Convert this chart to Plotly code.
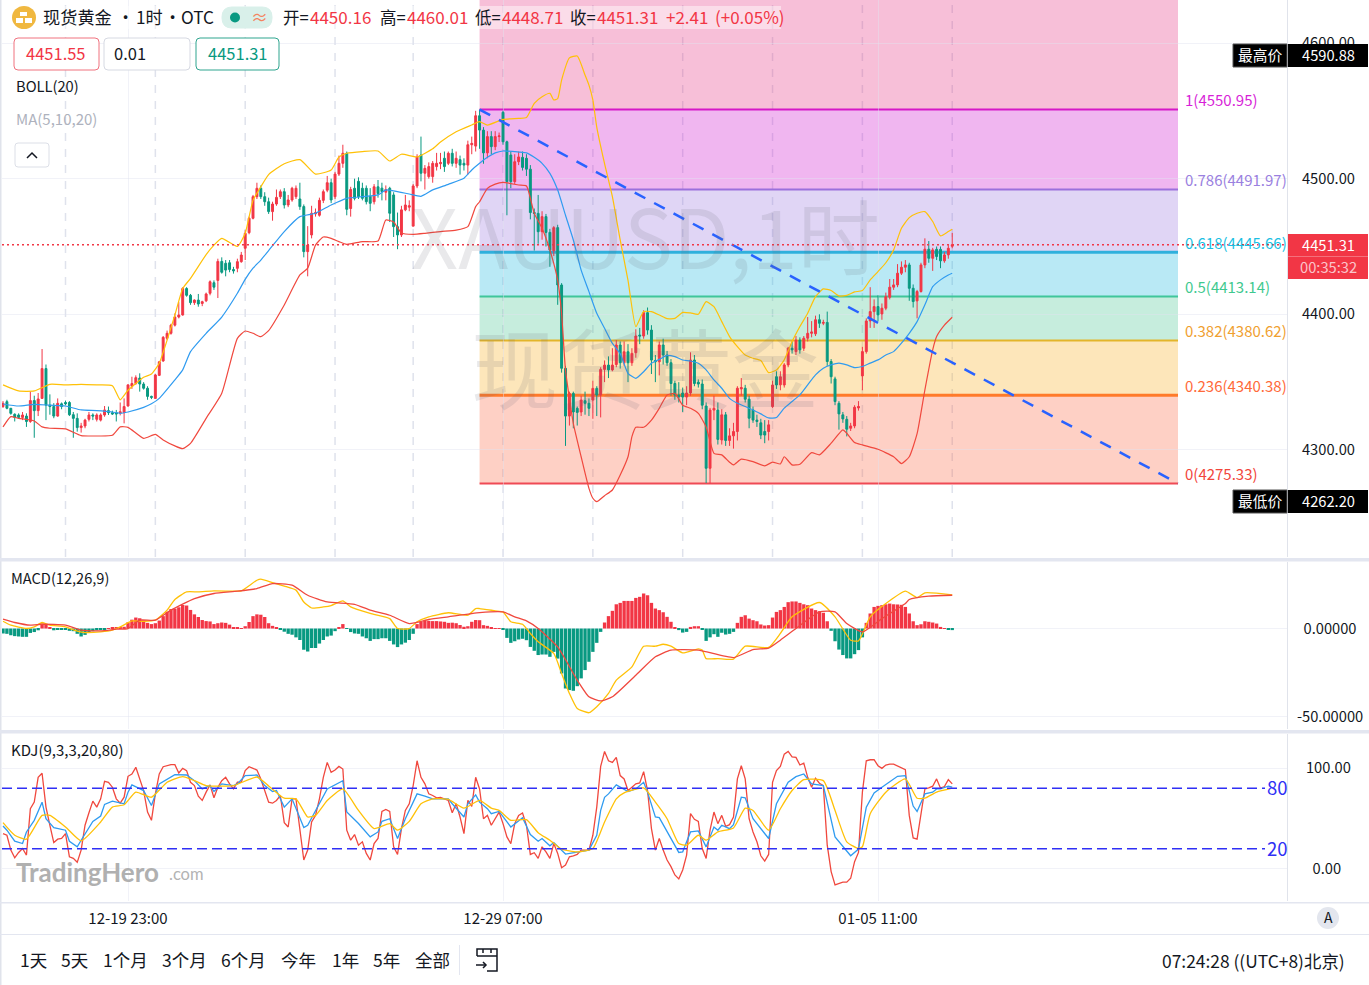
import plotly.graph_objects as go

W, H = 1369, 985
FONT = "Noto Sans CJK SC"
UP, DOWN = "#f23645", "#089981"

open_ = [4332,4335.6,4330.7,4326.3,4325.8,4324,4325,4321,4336.4,4329,
4338,4360,4333,4332,4325,4334,4335,4335,4326,4323.3,
4316.5,4317.7,4322.6,4325.8,4322.6,4322,4325.8,4329,4327.5,4327.5,
4327,4327.5,4332.4,4347,4349,4353,4348.6,4345.5,4339.5,4338,
4355,4365.6,4382.3,4386,4392,4398,4399.5,4419,4414,4408.6,
4410.5,4408,4410,4415.5,4423.3,4425,4439,4437.6,4438,4433,
4433.9,4438.8,4448.7,4460.2,4470.8,4486.7,4492.9,4486.7,4483,4475.7,
4481.3,4486.7,4490.4,4480.6,4484.3,4486.7,4485,4479.4,4446.2,4458.5,
4474,4473,4484,4491.5,4497,4486.7,4503.4,4511.3,4518.7,4478,
4492.9,4498,4492.9,4492.9,4487,4483,4494,4493,4490,4492.9,
4488,4464.6,4458.5,4477,4479,4465,4494.6,4517.4,4504,4501.5,
4501.5,4508.9,4511,4515,4511.3,4518.7,4511.3,4514,4511.3,4510,
4525,4524,4546.4,4535.8,4519,4531,4523.6,4531,4548.9,4527.2,
4517.4,4497.8,4512.5,4515.7,4515,4507,4475,4474.4,4460.9,4472,
4460.4,4446.9,4463.9,4421.6,4360.2,4325,4341.7,4330.7,4328,4336.3,
4334.4,4336.8,4345.4,4340.5,4359.4,4362.6,4359,4363,4377.4,4364.3,
4372.4,4364.3,4371.7,4384.7,4384,4401.2,4388.4,4366,4365,4377.4,
4370,4364.3,4349,4340.5,4342,4339,4342,4366.3,4350,4348.6,
4332.4,4286.5,4329.4,4329.4,4307.4,4325.9,4307,4310.4,4313.6,4345,
4345.5,4337.4,4329.5,4322,4320,4313.6,4313.6,4332,4354,4348,
4347.9,4362.7,4375,4372.5,4381,4375,4382.4,4386,4385.6,4396,
4393.4,4394,4365.2,4352.4,4334.4,4325.9,4322.6,4316,4317.7,4331,
4354.6,4372.5,4395.1,4402,4405.7,4400.3,4404.5,4412.6,4420,4421.7,
4430.3,4434.7,4436.4,4419.2,4409.9,4416.8,4436.4,4448,4441.3,4447.9,
4447.9,4439.4,4443.8,4450.16]

close = [4334.4,4330.7,4327,4324,4324,4325.8,4321,4336.4,4329,4337.6,
4360,4333,4332,4325,4334.4,4332,4334,4326,4323.3,4316.5,
4317.7,4322,4325.8,4325,4325.8,4325.8,4329.5,4327.5,4326.5,4326.5,
4328.2,4332,4348,4349,4353.3,4348.6,4345.5,4339.5,4338.8,4355.3,
4365,4383,4386,4392,4398,4399.5,4419,4414,4408.6,4410.5,
4407.6,4409.3,4415,4424,4420,4439,4431,4432.6,4433,4432,
4438.8,4443.7,4459.7,4470.8,4486.7,4492.9,4486.7,4483,4475.7,4481.3,
4486.2,4490.4,4480.6,4484.3,4492.9,4492.9,4479.4,4446.2,4451.1,4474.5,
4475,4484,4490.4,4497,4484.3,4503.4,4511.3,4518.7,4477.4,4492,
4485.5,4486.7,4485.5,4483,4481.8,4494,4489,4490.5,4492,4474.5,
4464.6,4458.5,4477,4480.6,4480,4494.6,4516,4504,4507.6,4508.9,
4511.3,4511.3,4512,4508.9,4518.7,4511.3,4515,4510,4510,4525,
4526,4546.4,4535.8,4519,4531,4523.6,4531,4531.5,4527.2,4497.8,
4497.8,4512.5,4516,4508.3,4507,4475,4474.4,4460.9,4472,4460.4,
4447.4,4463.9,4421.6,4360.2,4325,4341.7,4328,4327.7,4336.8,4334.4,
4330.7,4345.4,4340.5,4359.4,4362.6,4359,4362.6,4377.4,4364.3,4372.4,
4364.3,4371.2,4384,4384,4401.2,4388.4,4366.3,4365,4377.4,4370,
4364.3,4349,4340.5,4339,4339,4342,4366.3,4349,4348.6,4333,
4286.5,4329.4,4330.7,4307.8,4325.9,4307,4310.4,4313.6,4345.5,4346,
4337.4,4323.4,4322,4321,4311,4311,4318.5,4347.9,4347.9,4354,
4362.7,4375,4373.8,4381,4373.8,4382.4,4386,4387,4396,4393.4,
4394,4365.2,4354,4335.7,4326.6,4322.9,4315.3,4317.7,4331.5,4332,
4372.5,4395.1,4402,4405.7,4399.6,4404.5,4413,4420,4421.7,4430.3,
4434.7,4436.4,4419.2,4409.4,4416.8,4436.4,4448,4441.3,4447.5,4442.6,
4439.4,4443.8,4448.7,4451.31]

high = [4336,4337,4331,4327,4327,4328,4327,4343,4340,4342,
4374.4,4363,4341,4334.5,4338,4335,4336.4,4336,4328,4327,
4320,4323,4328,4327,4327,4327,4332.4,4332,4329,4329.5,
4335,4338,4348,4354,4355,4356.5,4350,4347,4340,4356,
4365.5,4384,4388,4393,4400.7,4409,4420,4420,4415,4411,
4415,4410,4416,4425,4425,4441,4442,4440,4440,4435,
4441,4446,4462,4472,4488,4497,4495,4490,4486,4483,
4492,4492,4493,4488,4494,4495,4497,4481,4465,4480,
4478,4486,4492,4502,4500,4505,4517,4525,4520,4494,
4500,4501,4497,4495,4493,4496,4499,4497,4495,4494,
4490,4475,4480,4488,4484,4496,4518,4531,4510,4512,
4513,4519,4519,4520,4520,4522,4520,4517,4515,4528,
4531,4550,4550.9,4538,4535,4535,4535,4534,4550,4528,
4520,4518,4520,4520,4518,4510,4478,4488,4476,4474,
4463,4465,4466,4423,4362,4343,4343,4332,4340,4343,
4338,4351,4347,4361,4366,4369,4375,4381,4380,4380,
4378,4375,4389,4390,4403,4405,4392,4370,4380,4382,
4373,4367,4351,4350,4346,4347,4372,4370,4352,4352,
4335,4331,4340,4335,4330,4328,4316,4320,4347,4353,
4348,4340,4332,4326,4323,4322,4322,4351,4358,4358,
4364,4376,4380,4384,4383,4384,4398,4395,4399,4400,
4396,4402,4367,4354,4336,4328,4325,4320,4333,4336,
4376,4397,4420,4411,4414,4408,4416,4426,4426,4437,
4439,4440,4438,4422,4418,4438,4456,4454,4449,4450,
4450,4446,4451,4460.01]

low = [4331,4330,4326,4321,4323,4322,4317,4320,4309,4325,
4338,4322,4326,4323.4,4324.5,4330,4333,4325,4309,4313.5,
4312.8,4316,4321,4322,4321,4321,4324.5,4325.8,4325.8,4321,
4325.5,4319.6,4332,4345,4348,4343,4344.5,4337,4337.5,4338,
4354.5,4365,4381,4385,4391,4397,4399,4413,4407,4406.9,
4405.6,4406,4409,4414,4418,4412,4430,4428,4431,4430,
4431,4438,4440,4459,4470,4485,4485,4480,4474,4469,
4480,4485,4478,4479,4483,4485,4477,4442,4428,4456,
4472,4472,4482,4490,4482,4485,4502,4508,4473,4472,
4484,4485,4484,4481,4476,4481,4486,4484,4484,4468,
4457,4448,4457,4476,4476,4465,4493,4498,4492,4500,
4497,4506,4507,4505,4510,4509,4508,4503,4506,4503,
4518,4520,4522,4511,4515,4518,4521,4527,4525,4473,
4493,4496,4510,4506,4502,4470,4447,4452,4455,4450,
4435,4443,4407,4357,4303,4318,4316,4318,4325,4326,
4325,4323,4325,4324,4350,4353,4358,4361,4360,4362,
4350,4362,4368,4378,4382,4385,4356,4350,4355,4363,
4362,4340,4337,4335,4328,4333,4340,4347,4346,4330,
4275.6,4275.3,4322,4304,4304,4303,4303,4301,4307,4340,
4335,4316,4320,4317,4308,4305,4307,4331,4345,4344,
4346,4361,4371,4370,4371,4373,4380,4383,4384,4390,
4392,4362,4349,4333,4315,4320,4310,4314,4316,4329,
4344,4371,4390,4390,4395,4396,4403,4411,4418,4420,
4429,4431,4410,4405,4397,4416,4434,4438,4432,4440,
4434,4438,4441,4448.71]

boll_up_i = [0,4,8,12,16,20,24,28,30,32,36,38,40,44,46,48,52,54,56,60,62,64,66,68,72,76,80,84,86,88,92,96,99,102,106,110,112,116,120,122,124,128,132,134,136,138,140,141,142,143,145,147,149,150,151,152,154,156,158,160,162,164,166,168,170,172,174,176,178,180,182,184,186,188,190,192,194,196,198,200,202,204,206,208,210,212,214,216,218,220,222,224,226,228,230,232,234,236,238,240,242,243]
boll_up = [4348,4343.5,4343.5,4348.4,4348,4348.4,4348,4347.4,4337,4344,4353.6,4356,4364,4399.5,4419,4426.5,4444,4451,4456,4450,4459.7,4484,4494,4503,4511,4514,4503.4,4506.4,4516,4518.7,4520,4520.4,4513,4518,4516,4522,4527,4534.6,4539.6,4542,4539.5,4543.7,4544.4,4545,4555.5,4560.4,4562.9,4558,4559,4572.7,4589,4590.4,4576.4,4569,4558,4538,4511,4486.7,4454.8,4425,4390.9,4402,4402,4399.5,4396.8,4397,4401.4,4401,4400,4409.3,4405.6,4394.6,4383.6,4376.2,4370,4367.6,4365.9,4357,4359,4366.4,4379.9,4391,4400.8,4413,4418.7,4417.5,4413.6,4414,4416.5,4417.5,4425.4,4431.5,4438,4447.5,4463.4,4471.3,4474.5,4475.7,4468.4,4457.8,4461,4462.7]

boll_mid_i = [0,4,8,12,16,20,24,28,30,32,36,38,40,44,46,48,52,56,60,62,64,66,68,72,76,80,84,88,92,96,98,100,104,107,110,114,118,120,122,124,126,128,132,134,136,138,140,142,144,146,148,150,152,154,156,158,160,162,164,166,168,170,172,174,176,178,180,182,184,186,188,190,192,194,196,198,200,202,204,206,208,210,212,214,216,218,220,222,224,226,228,230,232,234,236,238,240,242,243]
boll_mid = [4333.9,4332.4,4333.6,4333,4332.4,4329.5,4329,4328,4327,4328,4331.4,4334,4338,4351.6,4359,4372.5,4386,4398,4415.5,4425.8,4434,4440,4447,4461,4472,4474.5,4480.6,4485.5,4486.7,4488,4491.7,4491,4488.7,4487,4491.7,4495.8,4500.3,4506.4,4511.3,4515.7,4519,4520.4,4519.6,4519,4515.7,4511.3,4503.9,4491.6,4473,4454.8,4432.6,4416.7,4400.7,4389.7,4378.6,4371,4356.5,4352.8,4357.7,4363.9,4366.8,4369.7,4368.8,4366.3,4365.6,4363.9,4359,4351.6,4345.5,4338,4334.4,4332,4329.5,4326.6,4323.6,4323.9,4330.8,4335.7,4340.6,4348,4355.3,4360.3,4362.7,4364,4362.7,4360.7,4361.5,4364,4366.4,4370,4372.5,4378.7,4386,4394.6,4407,4420.4,4425.4,4429,4430.3]

boll_low_i = [0,2,4,8,10,12,16,20,24,28,30,32,36,39,41,44,46,48,52,56,60,62,64,66,68,72,76,78,80,82,84,86,88,92,96,98,100,102,105,108,112,116,119,121,122,124,126,128,132,134,136,138,140,142,143,144,146,148,150,151,152,154,156,158,160,161,162,164,166,168,170,172,174,176,178,180,182,184,186,187,189,192,195,197,199,200,202,204,207,209,212,215,216,218,220,224,228,230,232,234,236,238,239,241,243]
boll_low = [4317,4324.6,4323.3,4321.4,4317,4316,4315.5,4310.6,4310.3,4310.8,4317,4316.7,4308.6,4311.5,4307.4,4303,4301,4304.9,4323.3,4341.8,4382.3,4387.7,4386,4383.5,4388,4406.9,4429,4434,4451,4457,4456,4453.6,4451.6,4453.6,4454,4469.5,4468,4460,4459,4459.7,4461,4462,4464.6,4479.4,4483,4492.8,4496,4497.3,4495.3,4494.6,4474.4,4463.4,4447.4,4425,4400.7,4358.9,4319.6,4295,4271.7,4264.4,4261.9,4266.3,4270.5,4281.5,4295,4309.8,4316.7,4316.7,4322,4330.7,4340.5,4341.7,4333,4330.7,4327,4317,4297.5,4296.4,4291,4289,4293.2,4291.4,4288.3,4291,4289.7,4295,4289,4289.5,4298,4296.4,4305,4314.8,4312.3,4305.5,4303.7,4300.5,4295,4290,4295,4312,4344.3,4373.8,4383.6,4392,4397.8]

macd_hist = [-2.8,-3,-3.8,-4.3,-4.5,-4.7,-4.7,-2.5,-2,-1,
2.8,2.2,0.3,-1,-0.5,-0.5,-0.5,-1.3,-1.5,-3,
-4.5,-3.6,-2,-1.5,-1,-0.6,-0.3,0.2,0.3,0.4,
0.5,1,3.5,5,6.2,5.8,4.5,3.2,2.5,3,
4.5,7,9.5,11,11.3,12,13.3,13,10.5,8,
6.5,4.8,4.2,4,2.5,3,3.4,3.2,2.2,0.8,
0.4,0.2,1.3,3.7,7,8,7.8,6.5,3,1.5,
0.5,-0.3,-1.8,-3,-3.5,-5,-6.5,-12,-13,-11,
-11,-8.5,-6.5,-4.5,-4,-1.5,0.4,2.5,-0.2,-2,
-2.8,-3,-4.5,-5.5,-7,-6,-6,-5.5,-5.5,-7,
-9,-10.5,-9,-8,-6.5,-3,2.5,3.8,4.3,4.3,
4.2,4.2,4,3.8,3.2,3.3,3,2,1,1.3,
3.8,4.8,4.7,1.9,1.5,0.4,0.2,0.1,-0.6,-5.3,
-8.1,-7.2,-6.2,-5.8,-6.6,-10.4,-12.6,-15,-14.7,-14.7,
-16,-13.2,-17,-25.4,-33.9,-34.8,-35.2,-32.6,-28.2,-23.5,
-18.8,-13.2,-8.1,-1.9,3.4,7,10,13.7,14.5,15.6,
15.6,15.6,17.3,17.9,19.8,18.8,14.5,11.3,10.4,9.2,
6.6,3.8,0.4,-0.9,-2.3,-1.9,0.9,1.3,1.3,-0.6,
-7,-5,-3.2,-4.7,-2.4,-3.4,-3,-1.9,3.2,6.6,
7.5,5.6,4.7,4.1,2.3,1.7,1.9,6.2,9.4,10.4,
12.2,14.9,15.3,15.3,14.5,13.7,13.2,11.3,10.4,9.8,
8.9,4.1,-1.3,-7.2,-11.9,-15,-16.9,-16.9,-14.5,-12.2,
-5,3.2,8.5,12.2,12.8,13.2,13.7,14.1,13.7,13.6,
13.4,12.2,8.5,4.1,1.9,2.4,4.1,3.8,3.4,2.8,
0.9,0.1,-0.5,-0.9]

dif_i = [0,2,6,8,10,12,16,19,21,25,28,30,33,36,39,42,44,47,50,54,59,61,65,66,69,72,75,77,79,82,84,87,89,94,99,101,104,106,109,114,119,121,122,126,128,130,133,135,137,141,143,145,147,150,152,155,157,161,164,167,169,171,174,178,179,180,183,187,190,196,199,202,209,213,217,219,222,226,231,234,236,243]
dif = [4.1,1.9,0,0.9,3.4,1.9,0.9,-1.5,-2.3,-1.9,-0.9,0.9,4.3,4.1,4.7,10.4,16.4,20.7,20.7,21.3,21.1,21.3,27.3,27.9,26,24,21.7,15,11.6,12.2,13,15.6,12.2,8.5,5.6,0,0,3.8,6.6,8.9,7.5,11.3,11.3,10,9.4,3.8,2.4,-2.8,-7.5,-14.1,-25.4,-36.7,-45.2,-47.6,-44.2,-36.7,-29.2,-21.7,-10,-10,-8.9,-10,-13.8,-11.5,-12.2,-17,-17,-17.3,-10,-10.7,-2.8,6.6,14.7,6.6,-6.6,-7,6.6,14.1,21.1,17.5,20.2,19]

dea_i = [0,3,7,10,16,20,25,29,32,35,39,43,49,54,60,65,69,74,78,83,90,94,99,104,109,114,122,128,131,134,137,142,147,150,153,156,162,167,171,178,187,192,196,199,203,209,213,216,220,225,231,232,237,243]
dea = [5.3,3.4,1.9,2.4,1.9,-0.9,-1.3,-0.4,0,4.7,4.7,10.4,16.9,19.8,21.1,22.6,25.4,24.5,18.8,15,13.7,10.4,7.5,2.8,5.1,6.6,9,9.4,6.6,4.3,0,-10.4,-29.2,-38.6,-40.9,-38.6,-26.4,-16,-12.2,-12.2,-16.4,-11.9,-11.1,-6.6,0,9.4,9.4,2.8,-1.9,5.6,14.1,16.4,18.3,18.8]

kdj_j = [35.1,33.4,18.7,11.1,16.4,20.3,13.8,59.7,66.2,90.8,
94.8,61.3,43.3,26.2,29.5,30.2,35.1,12.1,10.5,6.6,
18.7,43.3,55.7,67.2,61.3,69.5,86.9,85.9,81,69.5,
65.2,71.1,91.8,94.1,100.7,89.2,77.7,56.4,48.2,74.4,
94.1,101.3,102.6,103.3,103.3,95.1,99.7,97.4,85.9,82.6,
72.1,67.9,76.1,83.3,70.5,81,87.5,90.8,84.3,79.3,
85.9,85.9,97.4,101.3,99.7,98,89.2,77.7,66.2,65.2,
67.9,72.8,45.9,41.6,69.5,69.5,40,8.9,18.7,46.6,
53.1,69.5,90.8,105.6,95.7,98,101.6,99,38.4,28.5,
34.1,23.6,26.9,15.4,8.9,25.2,30.2,57,59,57,
22,14.4,40,58,64.6,82.6,107.2,90.8,84.3,74.4,
72.8,70.5,70.8,69.5,67.9,55.7,64.6,51.5,35.1,67.9,
62,90.8,
79.3,49.8,53.1,43.3,49.8,56.4,44.9,31.8,25.2,44.9,
53.1,55.4,43.3,14.4,16.1,10.5,22,17,10.5,25.2,
15.4,1.3,3.9,12.1,13.1,14.4,18.7,18.7,18.7,33.4,
61.3,101.6,116.4,107.2,105.6,110.5,92.5,89.2,77.7,81,
84.3,85.2,96.4,77.7,40,18.7,30.2,18.7,8.9,2.3,
-5.9,-9.8,-1,13.8,54.8,49.2,47.2,20.3,10.5,38.4,
56.4,44.9,53.1,42.3,43.9,51.5,89.2,102.3,89.2,49.8,
36.7,26.9,13.1,7.9,14.4,85.9,97.4,101.6,113.8,116.4,
111.1,110.5,103,104.9,90.8,81,89.8,84.9,82.6,23.6,
-2.6,-15.7,-14.1,-13.1,-13.1,-9.2,7.2,16.4,76.1,107.2,
108.2,108.2,102.3,99.7,103,103.9,103.9,102.3,100.7,98.4,
53.1,30.8,29.5,56.4,79.3,80.3,82,89.2,80,81.6,
88.5,84.3]

kdj_k_i = [0,1,3,5,6,8,10,11,13,16,17,19,20,23,25,26,28,31,32,33,36,38,40,43,44,47,49,51,53,54,56,59,60,62,65,67,69,70,72,74,77,78,80,83,87,88,91,94,96,97,99,101,103,106,108,110,114,115,118,119,121,122,124,125,127,130,133,135,137,138,140,141,144,147,150,152,153,154,155,157,159,160,162,164,165,167,168,173,174,176,178,180,182,183,184,186,187,189,190,192,196,198,201,203,205,207,210,213,217,219,221,223,225,229,231,233,234,236,238,239,240,242,243]
kdj_k = [42.6,38.4,27.5,25.2,36.7,48.2,66.2,49.8,40.9,38.4,27.5,22,28.5,47.2,52.5,64,67.2,64.6,76.1,83.3,77.7,62.9,84.3,90.8,93.4,93.1,87.5,79.3,82.6,76.7,84.3,82.6,84.3,92.5,93.1,82.6,76.7,77.7,61.3,69.5,41,43.3,58,79.3,87.5,56.4,45,31.8,36.7,47.2,49.8,30.2,49.8,74.4,72.1,69.5,69.5,64.6,51.5,64.6,73.4,66.2,59.7,54.8,57,41.6,50.8,34.1,27.5,30.2,23,26.2,14.8,16.4,18.7,33.4,58,71,74.4,83.3,79.3,76.7,79.3,85.9,76.1,51.5,50.8,16.4,17,36.7,37.7,21.9,41.6,38.4,43.3,40,43.9,71.1,70.5,49.8,30.2,64.6,85.9,91.5,94.1,84.3,82.6,31.8,13.1,19.7,61.3,75.4,81,91.8,92.5,62.3,57,74.4,76.1,79.3,79.3,82,81]

kdj_d_i = [0,3,6,10,12,16,20,25,28,31,34,38,42,46,49,52,59,65,68,72,75,78,80,83,87,91,95,99,101,104,107,110,114,118,122,125,127,130,134,137,140,143,147,151,154,157,159,164,167,170,173,175,178,180,183,187,190,192,196,199,202,205,210,213,216,219,220,222,226,231,234,236,239,243]
kdj_d = [45.9,33.4,29.5,53.1,53.1,41.6,27.9,46.6,61.3,63.6,76.1,71.1,85.9,91.5,87.5,82.6,82.6,91.1,82.3,70.1,69.5,51.5,53.1,67.9,79.3,58,40,44.9,38.4,47.2,64.6,69.5,68.9,60.3,67.9,60.3,58,48.2,48.9,36,28.5,19.7,17,20.3,46.6,69.5,75.4,80.3,66.2,49.8,25.2,23.6,33.4,28.5,36.7,40.7,60.3,58,38.4,59.7,77.7,88.5,87.5,58,26.9,20.3,22,54.8,76.1,89.2,70.1,70.1,76.1,80]

fib_ratio = ["1", "0.786", "0.618", "0.5", "0.382", "0.236", "0"]
fib_price = [4550.95, 4491.97, 4445.66, 4413.14, 4380.62, 4340.38, 4275.33]
fib_line = ["#d518c8", "#9b70dc", "#2fb0dc", "#3fc69a", "#e3b52a", "#ff7a2a", "#ef4a55"]
fib_width = [2, 2, 3, 2, 2, 3, 2]
fib_text = ["#d81fd8", "#9a80e0", "#1cbfe3", "#3fc98f", "#f0a030", "#ff6a3a", "#f2463c"]
fib_fill = ["rgba(228,42,125,.3)", "rgba(205,12,205,.3)", "rgba(152,115,222,.3)", "rgba(22,182,222,.3)",
            "rgba(65,195,142,.3)", "rgba(248,172,25,.3)", "rgba(252,98,62,.3)"]
fib_start, fib_end = 122, 300.8

tick_idx = [32, 128, 224]
tick_txt = ["12-19 23:00", "12-29 07:00", "01-05 11:00"]
day_marks = [16, 39, 62, 85, 105, 128, 151, 174, 197, 220, 243]
price_ticks = [4300, 4400, 4500, 4600]
last_price = 4451.31
range_btn = ["1天", "5天", "1个月", "3个月", "6个月", "今年", "1年", "5年", "全部"]
range_btn_x = [19, 60, 102, 161, 220, 280, 331, 372, 414]

assert len(open_) == len(close) == len(high) == len(low) == len(macd_hist) == len(kdj_j) == 244
idx = list(range(len(close)))
px = lambda x: x / W
py = lambda y: 1 - y / H

XR = [-0.258, 328.7]
PRICE_R = [4221.1, 4631.7]
MACD_R = [-56.8, 37.6]
KDJ_R = [-31.7, 133.7]
X_DOM = [px(2), px(1287)]
GRID = "rgba(224,227,240,.45)"
EDGE = "#e0e3eb"
SMOOTH = dict(shape="spline", smoothing=0.5)

fig = go.Figure()

fig.add_trace(go.Candlestick(x=idx, open=open_, high=high, low=low, close=close, xaxis="x", yaxis="y",
    increasing=dict(line=dict(color=UP, width=1), fillcolor=UP),
    decreasing=dict(line=dict(color=DOWN, width=1), fillcolor=DOWN), whiskerwidth=0, showlegend=False))
for xs, ys, c in ((boll_up_i, boll_up, "#ffc107"), (boll_mid_i, boll_mid, "#2f9bf0"), (boll_low_i, boll_low, "#f0483e")):
    fig.add_trace(go.Scatter(x=xs, y=ys, mode="lines", line=dict(color=c, width=1.2, **SMOOTH), xaxis="x", yaxis="y", showlegend=False))
fig.add_trace(go.Scatter(x=[fib_start, fib_end], y=[fib_price[0], fib_price[-1]], mode="lines",
    line=dict(color="#2962ff", width=2.5, dash="12px,10px"), xaxis="x", yaxis="y", showlegend=False))

fig.add_trace(go.Bar(x=idx, y=macd_hist, marker=dict(color=[UP if v >= 0 else DOWN for v in macd_hist], line=dict(width=0)),
    xaxis="x2", yaxis="y2", showlegend=False))
fig.add_trace(go.Scatter(x=dif_i, y=dif, mode="lines", line=dict(color="#ffc107", width=1.3, **SMOOTH), xaxis="x2", yaxis="y2", showlegend=False))
fig.add_trace(go.Scatter(x=dea_i, y=dea, mode="lines", line=dict(color="#f0483e", width=1.3, **SMOOTH), xaxis="x2", yaxis="y2", showlegend=False))

fig.add_trace(go.Scatter(x=idx, y=kdj_j, mode="lines", line=dict(color="#f0483e", width=1.3), xaxis="x3", yaxis="y3", showlegend=False))
fig.add_trace(go.Scatter(x=kdj_k_i, y=kdj_k, mode="lines", line=dict(color="#2f9bf0", width=1.3), xaxis="x3", yaxis="y3", showlegend=False))
fig.add_trace(go.Scatter(x=kdj_d_i, y=kdj_d, mode="lines", line=dict(color="#ffc107", width=1.3, **SMOOTH), xaxis="x3", yaxis="y3", showlegend=False))

shapes, notes = [], []

def rect(x0, y0, x1, y1, fill, line=None, w=1, layer="above"):
    shapes.append(dict(type="rect", xref="paper", yref="paper", x0=px(x0), x1=px(x1), y0=py(y0), y1=py(y1),
                       fillcolor=fill, line=dict(color=line or fill, width=w if line else 0), layer=layer))

def rrect(x0, y0, x1, y1, r, fill, line, w=1):
    p = (f"M {px(x0+r)} {py(y0)} L {px(x1-r)} {py(y0)} Q {px(x1)} {py(y0)} {px(x1)} {py(y0+r)} "
         f"L {px(x1)} {py(y1-r)} Q {px(x1)} {py(y1)} {px(x1-r)} {py(y1)} L {px(x0+r)} {py(y1)} "
         f"Q {px(x0)} {py(y1)} {px(x0)} {py(y1-r)} L {px(x0)} {py(y0+r)} Q {px(x0)} {py(y0)} {px(x0+r)} {py(y0)} Z")
    shapes.append(dict(type="path", xref="paper", yref="paper", path=p, fillcolor=fill, line=dict(color=line, width=w), layer="above"))

def seg(pts, color, w=1.5):
    p = "M " + " L ".join(f"{px(x)} {py(y)}" for x, y in pts)
    shapes.append(dict(type="path", xref="paper", yref="paper", path=p, line=dict(color=color, width=w), layer="above"))

def txt(x, y, t, size=14.7, color="#131722", anchor="left", family=FONT):
    notes.append(dict(xref="paper", yref="paper", x=px(x - 1), y=py(y - 1), text=t, showarrow=False, xanchor=anchor, yanchor="middle",
                      font=dict(family=family, size=size, color=color), borderpad=0))

# Fibonacci bands, lines and labels
tops = [PRICE_R[1]] + fib_price[:-1]
for top, bot, fill in zip(tops, fib_price, fib_fill):
    shapes.append(dict(type="rect", xref="x", yref="y", x0=fib_start, x1=fib_end, y0=bot, y1=top, fillcolor=fill, line=dict(width=0), layer="below"))
for r, p, c, w, tc in zip(fib_ratio, fib_price, fib_line, fib_width, fib_text):
    shapes.append(dict(type="line", xref="x", yref="y", x0=fib_start, x1=fib_end, y0=p, y1=p, line=dict(color=c, width=w), layer="below"))
    notes.append(dict(xref="x", yref="y", x=fib_end, y=p, text=f"{r}({p:.2f})", showarrow=False, xanchor="left", xshift=5, yshift=10,
                      font=dict(family=FONT, size=15, color=tc)))

# Daily dashed separators
for d in day_marks:
    shapes.append(dict(type="line", xref="x", yref="paper", x0=d, x1=d, y0=py(557), y1=1,
                       line=dict(color="#dfe2ec", width=1.5, dash="8px,8px"), layer="below"))

# Last price line and KDJ bands
shapes.append(dict(type="line", xref="paper", yref="y", x0=px(2), x1=px(1287), y0=last_price, y1=last_price,
                   line=dict(color=UP, width=1.5, dash="2px,3px"), layer="above"))
for lvl, lab in ((80, "80"), (20, "20")):
    shapes.append(dict(type="line", xref="paper", yref="y3", x0=px(2), x1=px(1265), y0=lvl, y1=lvl,
                       line=dict(color="#2f2ff5", width=1.5, dash="10px,5px"), layer="above"))
    notes.append(dict(xref="paper", yref="y3", x=px(1277), y=lvl, text=lab, showarrow=False, xanchor="center", yshift=1,
                      font=dict(family=FONT, size=18.5, color="#2f2ff5")))

# Watermarks
txt(646, 234, "XAUUSD,1时", 82, "rgba(100,100,115,.14)", "center")
txt(646, 366, "现货黄金", 87, "rgba(100,100,115,.14)", "center")
txt(16, 873, "<b>TradingHero</b>", 26, "#b0b0b0", family="Lato")
txt(169, 875, ".com", 16.5, "#b3b3b3", family="Lato")

# Frame
rect(0, 0, 1.5, H, EDGE)
rect(0, 558, 1369, 561.5, "#e3e6f0")
rect(0, 730, 1369, 733.5, "#e3e6f0")
rect(0, 902, 1369, 903.5, "#e3e6f0")
rect(0, 934, 1369, 935, "#e3e6f0")
rect(459, 945, 460, 975, "#e3e6f0")

# Header
rect(6, 6, 781, 29, "rgba(255,255,255,.45)")
shapes.append(dict(type="circle", xref="paper", yref="paper", x0=px(12), x1=px(36), y0=py(6), y1=py(29), fillcolor="#f0b840", line=dict(width=0), layer="above"))
rect(20, 12, 27, 16, "#ffffff")
rect(16, 18, 23, 23, "#ffffff")
rect(25, 18, 32, 23, "#ffffff")
txt(43, 17.5, "现货黄金", 17.2)
txt(126, 17, "·", 17.2, anchor="center")
txt(136, 17.5, "1时", 17.2)
txt(173, 17, "·", 17.2, anchor="center")
txt(181, 17.5, "OTC", 17.2)
rrect(222, 7, 272, 28, 10, "#d9f0ea", "#d9f0ea")
shapes.append(dict(type="circle", xref="paper", yref="paper", x0=px(230), x1=px(240), y0=py(12.5), y1=py(22.5), fillcolor=DOWN, line=dict(width=0), layer="above"))
txt(260, 17, "≈", 17, "#f4845f", "center")
for x, lab, val in ((283, "开=", "4450.16"), (380, "高=", "4460.01"), (475, "低=", "4448.71"), (570, "收=", "4451.31")):
    txt(x, 17.5, lab, 16.5)
    txt(x + 27, 17.5, val, 17, UP)
txt(666, 17.5, "+2.41", 17, UP)
txt(715, 17.5, "(+0.05%)", 17, UP)

rrect(14, 38, 99, 70, 4, "#ffffff", "#f0727f")
txt(57, 54, "4451.55", 16.5, UP, "center")
rrect(104, 38, 190, 70, 4, "#ffffff", "#d6d9e2")
txt(114, 54, "0.01", 16.5)
rrect(196, 38, 279, 70, 4, "#ffffff", "#2fa58f")
txt(238.5, 54, "4451.31", 16.5, DOWN, "center")
txt(16, 86, "BOLL(20)", 14.7)
txt(16, 119, "MA(5,10,20)", 15, "#aeb2bd")
rrect(15, 143, 49, 167, 3, "#ffffff", "#dcdfe7")
seg([(27, 158), (32, 153), (37, 158)], "#131722")
txt(11, 578, "MACD(12,26,9)", 14.6)
txt(11, 750, "KDJ(9,3,3,20,80)", 15)

# Price-axis flags
rect(1233, 44, 1287, 67, "#000000", "#555555")
rect(1288, 44, 1368, 67, "#000000")
txt(1261, 55.5, "最高价", 14.7, "#ffffff", "center")
txt(1329, 55.5, "4590.88", 14.7, "#ffffff", "center")
rect(1233, 490, 1287, 513, "#000000", "#555555")
rect(1288, 490, 1368, 513, "#000000")
txt(1261, 501.5, "最低价", 14.7, "#ffffff", "center")
txt(1329, 501.5, "4262.20", 14.7, "#ffffff", "center")
rect(1288, 234, 1368, 279, UP)
rect(1288, 256, 1368, 257, "#f5707c")
txt(1329, 245, "4451.31", 14.7, "#ffffff", "center")
txt(1329, 267.5, "00:35:32", 14.7, "#fbc4ca", "center")

# Axis-mode badge
shapes.append(dict(type="circle", xref="paper", yref="paper", x0=px(1317), x1=px(1339), y0=py(907), y1=py(929), fillcolor="#e3e6ee", line=dict(width=0), layer="above"))
txt(1329, 918, "A", 14, "#131722", "center")

# Bottom bar
for lab, x in zip(range_btn, range_btn_x):
    txt(x + 1, 960.5, lab, 17.5)
seg([(477, 956), (477, 949), (497, 949), (497, 971), (487, 971)], "#131722", 1.5)
seg([(477, 956), (497, 956)], "#131722", 1.5)
seg([(483, 949), (483, 953)], "#131722", 1.5)
seg([(491, 949), (491, 953)], "#131722", 1.5)
seg([(476, 965), (486, 965)], "#131722", 1.5)
seg([(483, 962), (486, 965), (483, 968)], "#131722", 1.5)
txt(1162, 961, "07:24:28 ((UTC+8)北京)", 17.4)

axis_font = dict(family=FONT, size=14.7, color="#131722")
x_common = dict(range=XR, domain=X_DOM, tickmode="array", tickvals=tick_idx, showgrid=True, gridcolor=GRID, gridwidth=1,
                zeroline=False, showline=False, ticks="", fixedrange=True, rangeslider=dict(visible=False))
y_common = dict(side="right", tickmode="array", showgrid=True, gridcolor=GRID, gridwidth=1, zeroline=False, showline=True,
                linecolor=EDGE, linewidth=1, ticks="", tickfont=axis_font, fixedrange=True)

fig.update_layout(
    width=W, height=H, margin=dict(l=0, r=0, t=0, b=0), paper_bgcolor="white", plot_bgcolor="white",
    showlegend=False, bargap=0.14, hovermode=False, shapes=shapes, annotations=notes,
    font=dict(family=FONT),
    xaxis=dict(anchor="y", showticklabels=False, **x_common),
    xaxis2=dict(anchor="y2", showticklabels=False, **x_common),
    xaxis3=dict(anchor="y3", showticklabels=True, ticktext=tick_txt, tickfont=dict(family=FONT, size=15, color="#131722"),
                ticklabelstandoff=7, **x_common),
    yaxis=dict(anchor="x", domain=[py(557), 1], range=PRICE_R, tickvals=price_ticks, ticktext=[f"{v:.2f}" for v in price_ticks],
               ticklabelstandoff=11, **y_common),
    yaxis2=dict(anchor="x2", domain=[py(729), py(562)], range=MACD_R, tickvals=[0, -50], ticktext=["\u00a0\u00a00.00000", "-50.00000"],
                ticklabelstandoff=6, **y_common),
    yaxis3=dict(anchor="x3", domain=[py(901), py(734)], range=KDJ_R, tickvals=[100, 0], ticktext=["100.00", "\u00a0\u00a00.00"],
                ticklabelstandoff=15, **y_common),
)

fig.write_html("out.html", config=dict(displayModeBar=False), post_script="document.body.style.margin='0';document.documentElement.style.overflow='hidden';")
